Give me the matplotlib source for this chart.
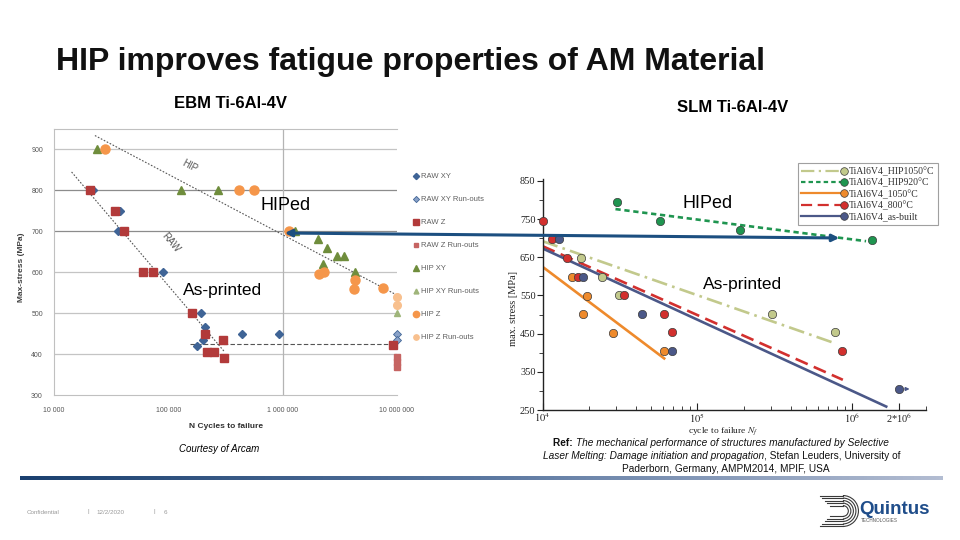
import numpy as np
import matplotlib
matplotlib.use("Agg")
import matplotlib.pyplot as plt
from matplotlib.lines import Line2D
from matplotlib.patches import Arc, FancyArrowPatch
from matplotlib.legend_handler import HandlerLine2D
from matplotlib.ticker import FixedLocator, NullFormatter, LogLocator

plt.rcParams['font.family'] = ['Liberation Sans', 'DejaVu Sans']
plt.rcParams['mathtext.fontset'] = 'stix'

# ---- left chart (EBM, courtesy of Arcam) ----
raw_xy_n = [22000, 37700, 36000, 89000, 192000, 211000, 200000, 178000, 437000, 922000]
raw_xy_s = [800, 750, 700, 600, 500, 465, 434, 420, 450, 450]
raw_xy_ro_n = [1e7, 1e7]
raw_xy_ro_s = [450, 435]
raw_z_n = [20600, 34000, 41100, 59600, 73000, 162000, 211000, 216000, 253000, 302000, 309000, 9.2e6]
raw_z_s = [800, 750, 700, 600, 600, 500, 450, 405, 405, 434, 391, 421]
raw_z_ro_n = [1e7, 1e7, 1e7]
raw_z_ro_s = [393, 381, 369]
hip_xy_n = [23600, 129000, 272000, 1.29e6, 2.03e6, 2.45e6, 2.98e6, 3.43e6, 2.24e6, 4.3e6]
hip_xy_s = [900, 800, 800, 700, 680, 660, 640, 640, 620, 600]
hip_xy_ro_n = [1e7]
hip_xy_ro_s = [500]
hip_z_n = [27900, 413000, 558000, 1.135e6, 2.06e6, 2.29e6, 4.27e6, 4.17e6, 7.5e6]
hip_z_s = [900, 800, 800, 700, 595, 600, 580, 560, 562]
hip_z_ro_n = [1e7, 1e7]
hip_z_ro_s = [540, 520]

hip_fit_n = [22800, 1e7]
hip_fit_s = [934, 544]
raw_fit_n = [14250, 307000]
raw_fit_s = [845, 407]
raw_floor_n = [155000, 9.5e6]
raw_floor_s = [424, 424]

left_xticks = [1e4, 1e5, 1e6, 1e7]
left_xlabels = ['10 000', '100 000', '1 000 000', '10 000 000']
left_yticks = [300, 400, 500, 600, 700, 800, 900]

# ---- right chart (SLM, Leuders) ----
hip1050_n = [17700, 24400, 31200, 304000, 771000]
hip1050_s = [649, 599, 551, 501, 453]
hip920_n = [30500, 57500, 188000, 1.34e6]
hip920_s = [795, 745, 721, 695]
t1050_n = [15400, 19500, 18300, 28600, 61100]
t1050_s = [599, 549, 501, 452, 404]
t800_n = [10000, 11570, 14330, 17000, 33600, 61100, 68200, 859000]
t800_s = [745, 697, 649, 599, 551, 502, 453, 404]
asbuilt_n = [12800, 18200, 43700, 68200, 2.02e6]
asbuilt_s = [697, 599, 501, 404, 305]

hip1050_fit_n = [1e4, 771000]
hip1050_fit_s = [692, 425]
hip920_fit_n = [29600, 1.23e6]
hip920_fit_s = [776, 692]
t1050_fit_n = [1e4, 61100]
t1050_fit_s = [625, 385]
t800_fit_n = [1e4, 871000]
t800_fit_s = [679, 329]
asbuilt_fit_n = [1e4, 1.66e6]
asbuilt_fit_s = [673, 259]

right_xticks = [1e4, 1e5, 1e6, 2e6]
right_xlabels = ['$10^4$', '$10^5$', '$10^6$', '2*10$^6$']
right_yticks = [250, 350, 450, 550, 650, 750, 850]

W, H = 960, 540


def px(x, y):
    return x / W, 1 - y / H


class EndMarkerHandler(HandlerLine2D):
    # legend line with the marker sitting at its right end
    def create_artists(self, legend, orig_handle, xdescent, ydescent,
                       width, height, fontsize, trans):
        y = (height - ydescent) / 2
        xs = [-xdescent, width - xdescent]
        line = Line2D(xs, [y, y])
        self.update_prop(line, orig_handle, legend)
        line.set_marker('None')
        mk = Line2D([xs[1]], [y])
        self.update_prop(mk, orig_handle, legend)
        mk.set_linestyle('None')
        line.set_transform(trans)
        mk.set_transform(trans)
        return [line, mk]


def left_chart(fig):
    x0, y0 = px(54, 395)
    x1, y1 = px(397, 129)
    ax = fig.add_axes([x0, y0, x1 - x0, y1 - y0])
    ax.set_xscale('log')
    ax.set_xlim(1e4, 1e7)
    ax.set_ylim(300, 950)
    for s in left_yticks[1:]:
        c = '#8c8c8c' if s in (700, 800) else '#c4c4c4'
        ax.axhline(s, color=c, lw=0.9, zorder=0)
    ax.axvline(1e6, color='#b4b4b4', lw=0.9, zorder=0)
    for sp in ['left', 'bottom', 'top']:
        ax.spines[sp].set_color('#c0c0c0')
    ax.spines['right'].set_visible(False)
    ax.set_xticks(left_xticks)
    ax.set_xticklabels(left_xlabels)
    ax.xaxis.set_minor_locator(FixedLocator([]))
    ax.set_yticks(left_yticks)
    ax.tick_params(length=0, labelsize=5, labelcolor='#555555')
    ax.tick_params(axis='x', pad=9)
    ax.tick_params(axis='y', pad=8)

    ax.plot(hip_fit_n, hip_fit_s, ls=(0, (1.5, 1.5)), color='#555555', lw=0.8)
    ax.plot(raw_fit_n, raw_fit_s, ls=(0, (1.5, 1.5)), color='#555555', lw=0.8)
    ax.plot(raw_floor_n, raw_floor_s, ls=(0, (4, 2)), color='#555555', lw=0.8)

    ax.plot(raw_xy_n, raw_xy_s, 'D', color='#3f6496', ms=4.5, label='RAW XY')
    ax.plot(raw_xy_ro_n, raw_xy_ro_s, 'D', color='#8aa2c8', mec='#3f6496', mew=0.6, ms=4.5,
            label='RAW XY Run-outs', clip_on=False)
    ax.plot(raw_z_n, raw_z_s, 's', color='#b23a3a', ms=6, label='RAW Z', clip_on=False)
    ax.plot(raw_z_ro_n, raw_z_ro_s, 's', color='#c66462', ms=5, label='RAW Z Run-outs', clip_on=False)
    ax.plot(hip_xy_n, hip_xy_s, '^', color='#6f8d3c', ms=6, label='HIP XY')
    ax.plot(hip_xy_ro_n, hip_xy_ro_s, '^', color='#9fb57a', ms=5, label='HIP XY Run-outs', clip_on=False)
    ax.plot(hip_z_n, hip_z_s, 'o', color='#f5964a', ms=6.5, label='HIP Z')
    ax.plot(hip_z_ro_n, hip_z_ro_s, 'o', color='#f8c08e', ms=5.5, label='HIP Z Run-outs', clip_on=False)

    ax.text(1.55e5, 860, 'HIP', rotation=-28, fontsize=7, color='#555555', ha='center', va='center')
    ax.text(1.05e5, 672, 'RAW', rotation=-50, fontsize=7, color='#555555', ha='center', va='center')

    ax.legend(loc='upper left', bbox_to_anchor=px(413, 173), bbox_transform=fig.transFigure,
              frameon=False, fontsize=5.5, labelspacing=2.05, handlelength=0.7,
              handletextpad=0.3, borderpad=0, borderaxespad=0, numpoints=1,
              markerscale=0.7, labelcolor='#606060')
    return ax


def right_chart(fig):
    x0, y0 = px(542.5, 410)
    x1, y1 = px(926, 178.9)
    ax = fig.add_axes([x0, y0, x1 - x0, y1 - y0])
    ax.set_xscale('log')
    ax.set_xlim(1e4, 3e6)
    ax.set_ylim(250, 855)
    for sp in ['top', 'right']:
        ax.spines[sp].set_visible(False)
    for sp in ['left', 'bottom']:
        ax.spines[sp].set_color('#222222')
        ax.spines[sp].set_linewidth(1.0)

    ax.set_xticks(right_xticks)
    ax.set_xticklabels(right_xlabels)
    ax.xaxis.set_minor_locator(LogLocator(base=10, subs=np.arange(2, 10), numticks=20))
    ax.xaxis.set_minor_formatter(NullFormatter())
    ax.set_yticks(right_yticks)
    ax.yaxis.set_minor_locator(FixedLocator([300, 400, 500, 600, 700, 800]))
    for lab in ax.get_xticklabels() + ax.get_yticklabels():
        lab.set_family('Liberation Serif')
    ax.tick_params(axis='x', which='both', direction='in', labelsize=7.5, pad=1, colors='#222222')
    ax.tick_params(axis='x', which='major', length=5)
    ax.tick_params(axis='x', which='minor', length=3)
    ax.tick_params(axis='y', which='both', direction='out', labelsize=7.5, pad=1, colors='#222222')
    ax.tick_params(axis='y', which='major', length=4)
    ax.tick_params(axis='y', which='minor', length=3)

    series = [
        ('TiAl6V4_HIP1050°C', '#c2c98c', (0, (6, 2, 1, 2)), hip1050_fit_n, hip1050_fit_s, hip1050_n, hip1050_s),
        ('TiAl6V4_HIP920°C', '#1f9550', (0, (2, 1.4)), hip920_fit_n, hip920_fit_s, hip920_n, hip920_s),
        ('TiAl6V4_1050°C', '#ee8a2c', '-', t1050_fit_n, t1050_fit_s, t1050_n, t1050_s),
        ('TiAl6V4_800°C', '#d2302e', (0, (5, 2.5)), t800_fit_n, t800_fit_s, t800_n, t800_s),
        ('TiAl6V4_as-built', '#4b5888', '-', asbuilt_fit_n, asbuilt_fit_s, asbuilt_n, asbuilt_s),
    ]
    handles = []
    for name, c, ls, fn, fs, n, s in series:
        ax.plot(fn, fs, color=c, ls=ls, lw=1.9, zorder=2)
    for name, c, ls, fn, fs, n, s in series:
        ax.plot(n, s, 'o', color=c, mec='#3a3a3a', mew=0.5, ms=6, zorder=3, clip_on=False)
        handles.append(Line2D([], [], color=c, ls=ls, lw=1.6, marker='o', mfc=c,
                              mec='#3a3a3a', mew=0.5, ms=5.5, label=name))
    # run-out arrow on the as-built point
    ax.annotate('', xy=(2.45e6, 305), xytext=(2.1e6, 305),
                arrowprops=dict(arrowstyle='-|>', color='#4b5888', lw=1, mutation_scale=5))

    leg = ax.legend(handles=handles, loc='upper left', bbox_to_anchor=px(798, 163),
                    bbox_transform=fig.transFigure, labelspacing=0.2,
                    handlelength=4.4, handletextpad=0.5, borderpad=0.35, borderaxespad=0,
                    fancybox=False, edgecolor='#a0a0a0', framealpha=1,
                    prop={'family': 'Liberation Serif', 'size': 7},
                    handler_map={Line2D: EndMarkerHandler()})
    leg.get_frame().set_linewidth(0.8)
    for t in leg.get_texts():
        t.set_color('#333333')
    return ax


def ref_text(fig):
    size = 7.3
    lines = [
        (553, 448, [('Ref: ', 'normal', 'bold'),
                    ('The mechanical performance of structures manufactured by Selective', 'italic', 'normal')]),
        (543, 461, [('Laser Melting: Damage initiation and propagation', 'italic', 'normal'),
                    (', Stefan Leuders, University of', 'normal', 'normal')]),
        (622, 474, [('Paderborn, Germany, AMPM2014, MPIF, USA', 'normal', 'normal')]),
    ]
    for x, y, parts in lines:
        prev = None
        for txt, style, weight in parts:
            if prev is None:
                prev = fig.text(*px(x, y), txt, fontsize=size, style=style,
                                weight=weight, va='bottom', ha='left', color='#111111')
            else:
                prev = plt.annotate(txt, xy=(1, 0), xycoords=prev, va='bottom', ha='left',
                                    fontsize=size, style=style, weight=weight, color='#111111')


def slide_decor(fig):
    fig.text(*px(56, 62), 'HIP improves fatigue properties of AM Material',
             fontsize=23, weight='bold', ha='left', va='center', color='#111111')
    fig.text(*px(230, 103), 'EBM Ti-6Al-4V', fontsize=12, weight='bold', ha='center', va='center')
    fig.text(*px(733, 107), 'SLM Ti-6Al-4V', fontsize=12, weight='bold', ha='center', va='center')
    fig.text(*px(260, 205), 'HIPed', fontsize=13, ha='left', va='center')
    fig.text(*px(183, 290), 'As-printed', fontsize=12.5, ha='left', va='center')
    fig.text(*px(682, 204), 'HIPed', fontsize=13, ha='left', va='center')
    fig.text(*px(703, 284), 'As-printed', fontsize=12.5, ha='left', va='center')

    fig.text(*px(22, 267), 'Max-stress (MPa)', fontsize=6, weight='bold', color='#404040',
             rotation=90, ha='center', va='center')
    fig.text(*px(226, 426), 'N Cycles to failure', fontsize=6, weight='bold', color='#303030',
             ha='center', va='center')
    fig.text(*px(219, 449), 'Courtesy of Arcam', fontsize=7, style='italic', ha='center', va='center')

    fig.text(*px(514, 308), 'max. stress [MPa]', fontsize=7.5, family='Liberation Serif',
             rotation=90, ha='center', va='center', color='#222222')
    fig.text(*px(723, 431), 'cycle to failure $N_f$', fontsize=6.8, family='Liberation Serif',
             ha='center', va='center', color='#222222')

    # big arrow joining the two charts
    arr = FancyArrowPatch(px(282, 233), px(842, 238), transform=fig.transFigure,
                          arrowstyle='<|-|>', mutation_scale=10, color='#1c4f80', lw=2.2)
    fig.patches.append(arr)

    # footer gradient bar
    bar = fig.add_axes([20 / W, 1 - 480 / H, 922 / W, 4 / H])
    grad = np.linspace(0, 1, 256).reshape(1, -1)
    cmap = matplotlib.colors.LinearSegmentedColormap.from_list('bar', ['#1a406f', '#5a77a0', '#b3bdd2'])
    bar.imshow(grad, aspect='auto', cmap=cmap)
    bar.axis('off')

    foot = '#9a9a9a'
    fig.text(*px(27, 512), 'Confidential', fontsize=4.5, color=foot, va='center')
    fig.text(*px(87, 512), '|', fontsize=4.5, color=foot, va='center')
    fig.text(*px(96, 512), '12/2/2020', fontsize=4.5, color=foot, va='center')
    fig.text(*px(154, 512), '|', fontsize=4.5, color=foot, va='center')
    fig.text(*px(164, 512), '6', fontsize=4.5, color=foot, va='center')

    # Quintus logo
    lg = fig.add_axes([818 / W, 1 - 528 / H, 42 / W, 34 / H])
    lg.set_xlim(-1.6, 1.1)
    lg.set_ylim(-1.1, 1.1)
    lg.axis('off')
    for r in np.linspace(0.35, 1.0, 5):
        lg.add_patch(Arc((0, 0), 2 * r, 2 * r, theta1=-90, theta2=90, color='#3a3a3a', lw=0.8))
        lg.plot([-1.5 + (1 - r), 0], [r, r], color='#3a3a3a', lw=0.8)
        lg.plot([-1.5 + (1 - r), 0], [-r, -r], color='#3a3a3a', lw=0.8)
    fig.text(*px(859, 509), 'Quintus', fontsize=13.5, weight='bold', color='#1f4d8a', va='center')
    fig.text(*px(861, 521), 'TECHNOLOGIES', fontsize=3.3, color='#555555', va='center')


def main():
    fig = plt.figure(figsize=(9.6, 5.4), dpi=100)
    fig.patch.set_facecolor('white')
    left_chart(fig)
    right_chart(fig)
    slide_decor(fig)
    ref_text(fig)
    fig.savefig('out.png', dpi=100)


main()
